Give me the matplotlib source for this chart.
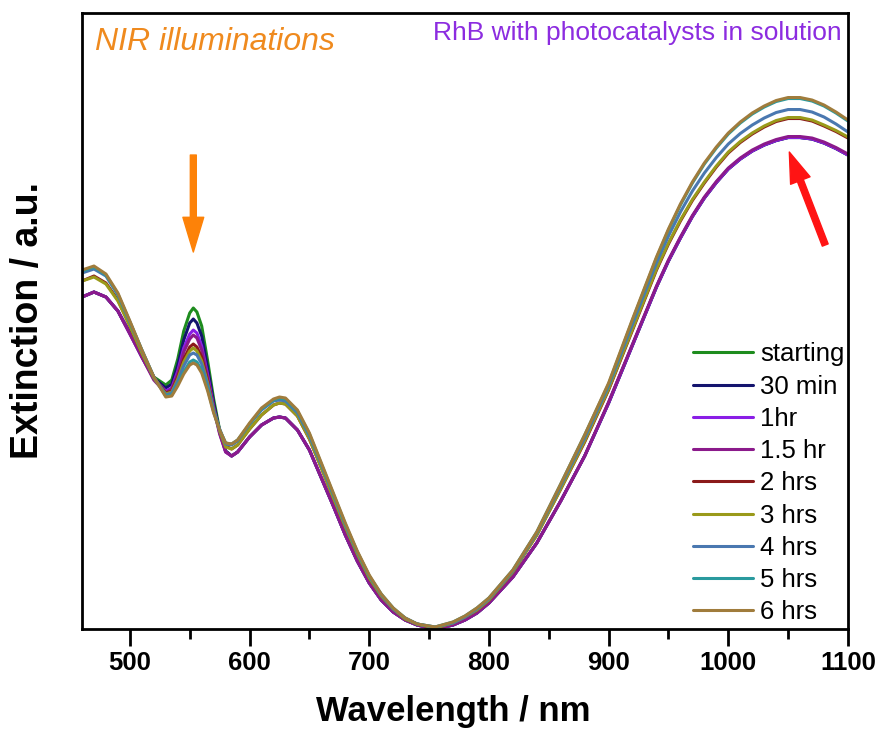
import matplotlib.pyplot as plt
from matplotlib.ticker import MultipleLocator

plt.rcParams['font.family'] = ['Liberation Sans', 'DejaVu Sans']

# wavelength grid (nm)
wavelength = [460, 470, 480, 490, 500, 510, 520, 530, 535, 540, 545, 550, 553, 556,
              560, 565, 570, 575, 580, 585, 590, 600, 610, 620, 625, 630, 640,
              650, 660, 670, 680, 690, 700, 710, 720, 730, 740, 755, 770, 780, 790,
              800, 820, 840, 860, 880, 900, 920, 940,
              950, 960, 970, 980, 990, 1000, 1010, 1020, 1030, 1040, 1050, 1060,
              1070, 1080, 1090, 1100]

# extinction (a.u.) for each illumination time
ext_start = [332, 337, 332, 318, 296, 273, 252, 244, 249, 270, 298, 316, 321, 317,
             303, 268, 230, 199, 178, 173, 177, 192, 204, 211, 212, 211, 199,
             179, 151, 123, 94, 68, 46, 29, 17, 9, 4, 0, 4, 9, 16,
             26, 52, 86, 128, 173, 226, 284, 342,
             368, 391, 412.5, 431, 446.5, 460, 470, 478, 484, 488.5, 491.5, 491.5,
             490, 486, 480.5, 474]
ext_30min = [332, 337, 332, 318, 296, 272, 251, 241, 245, 264, 289, 306, 310, 306,
             293, 261, 226, 197, 178, 173, 177, 192, 204, 211, 212, 211, 199,
             179, 151, 123, 94, 68, 46, 29, 17, 9, 4, 0, 4, 9, 16,
             26, 52, 86, 128, 173, 226, 284, 342,
             368, 391, 412.5, 431, 446.5, 460, 470, 478, 484, 488.5, 491.5, 491.5,
             490, 486, 480.5, 474]
ext_1h = [332, 337, 332, 318, 295, 272, 250, 238, 241, 258, 281, 295, 299, 296,
          283, 254, 222, 196, 177, 173, 177, 192, 204, 211, 212, 211, 199,
          179, 151, 123, 94, 68, 46, 29, 17, 9, 4, 0, 4, 9, 16,
          26, 52, 86, 128, 173, 226, 284, 342,
          368, 391, 412.5, 431, 446.5, 460, 470, 478, 484, 488.5, 491.5, 491.5,
          490, 486, 480.5, 474]
ext_1h5 = [332, 337, 332, 318, 295, 272, 249, 236, 240, 255, 277, 290, 294, 291,
           279, 251, 220, 195, 177, 173, 177, 192, 204, 211, 212, 211, 199,
           179, 151, 123, 94, 68, 46, 29, 17, 9, 4, 0, 4, 9, 16,
           26, 52, 86, 128, 173, 227, 285, 343,
           369, 392, 413.5, 432, 447.5, 461, 471, 479, 485, 489.5, 492.5, 492.5,
           491, 487, 481.5, 475]
ext_2h = [348, 353, 346, 329, 303, 276, 252, 236, 238, 252, 270, 282, 285, 282,
          272, 248, 220, 199, 183, 180, 184, 200, 214, 224, 226, 225, 213,
          190, 161, 131, 102, 75, 51, 33, 20, 10, 5, 1, 6, 12, 19,
          29, 57, 94, 140, 187, 239, 299, 359,
          385, 408, 428.5, 446, 462, 476, 486.5, 495, 502, 507.5, 510.5, 510.5,
          508, 503, 497.5, 491]
ext_3h = [348, 352, 345, 328, 303, 276, 251, 235, 237, 250, 267, 278, 281, 278,
          268, 246, 219, 198, 182, 180, 184, 200, 214, 224, 226, 225, 213,
          190, 161, 131, 102, 75, 51, 33, 20, 10, 5, 1, 6, 12, 19,
          29, 57, 94, 140, 188, 240, 300, 360,
          386, 409, 429.5, 447, 463, 477, 487.5, 496, 503, 508.5, 511.5, 511.5,
          509, 504, 498.5, 492]
ext_4h = [356, 360, 353, 334, 307, 279, 252, 234, 236, 248, 263, 274, 276, 274,
          265, 244, 219, 200, 185, 184, 188, 205, 219, 228, 229, 228, 216,
          193, 164, 134, 104, 77, 53, 34, 20, 11, 5, 2, 6, 12, 20,
          30, 58, 96, 143, 191, 243, 305, 366,
          393, 417, 438, 456, 471.5, 485, 495.5, 504, 511, 516.5, 519.5, 519.5,
          517, 512, 505, 497]
ext_5h = [358, 362, 354, 335, 307, 279, 252, 233, 234, 245, 257, 267, 269, 267,
          259, 240, 217, 199, 186, 185, 189, 205, 220, 229, 231, 230, 218,
          195, 165, 135, 105, 77, 53, 35, 21, 11, 5, 2, 7, 13, 21,
          31, 59, 97, 145, 194, 245, 309, 371,
          399, 424, 446, 465, 481, 495, 506, 515, 522, 527.5, 530.5, 530.5,
          528, 523, 516, 508]
ext_6h = [359, 363, 355, 336, 308, 279, 252, 232, 233, 243, 255, 264, 266, 264,
          256, 238, 216, 199, 186, 185, 189, 206, 221, 230, 232, 231, 219,
          196, 166, 136, 106, 78, 54, 35, 21, 11, 5, 2, 7, 13, 21,
          31, 59, 97, 145, 194, 246, 310, 372,
          400, 425, 447, 466, 482, 496, 507, 516, 523, 528.5, 531.5, 531.5,
          529, 524, 517, 509]

labels = ['starting', '30 min', '1hr', '1.5 hr', '2 hrs', '3 hrs', '4 hrs', '5 hrs', '6 hrs']
series = [ext_start, ext_30min, ext_1h, ext_1h5, ext_2h, ext_3h, ext_4h, ext_5h, ext_6h]
colors = ['#1e8c1e', '#14146e', '#8a1ee6', '#8b1a8b', '#8b1a1a',
          '#9a9a1a', '#4a78b0', '#2a9a9e', '#a07c3c']

fig = plt.figure(figsize=(8.79, 7.32), dpi=100)
ax = fig.add_axes([0.0933, 0.1407, 0.8714, 0.8415])

for lab, vals, c in zip(labels, series, colors):
    ax.plot(wavelength, vals, color=c, lw=2.2, label=lab,
            solid_joinstyle='round', solid_capstyle='round')

ax.set_xlim(460, 1100)
ax.set_ylim(0, 616)
ax.set_yticks([])
ax.xaxis.set_major_locator(MultipleLocator(100))
ax.xaxis.set_minor_locator(MultipleLocator(50))
ax.tick_params(axis='x', which='major', direction='out', length=12, width=2,
               labelsize=18.5, pad=4)
ax.tick_params(axis='x', which='minor', direction='out', length=7, width=2)
for t in ax.get_xticklabels():
    t.set_fontweight('bold')
for s in ax.spines.values():
    s.set_linewidth(2)

fig.text(453 / 879, 1 - 712 / 732, 'Wavelength / nm', fontsize=25,
         fontweight='bold', ha='center', va='center')
fig.text(28 / 879, 1 - 320 / 732, 'Extinction / a.u.', fontsize=27,
         fontweight='bold', rotation=90, ha='center', va='center')

ax.text(0.017, 0.94, 'NIR illuminations', transform=ax.transAxes, fontsize=23,
        style='italic', color='#ef8a1e', ha='left', va='baseline')
ax.text(0.992, 0.956, 'RhB with photocatalysts in solution', transform=ax.transAxes,
        fontsize=19, color='#8c2ce0', ha='right', va='baseline')

# arrows: dye band fading, plasmon band rising
ax.annotate('', xy=(553, 377), xytext=(553, 474),
            arrowprops=dict(arrowstyle='simple,head_width=1.5,head_length=2.5,tail_width=0.43',
                            color='#fd8208', shrinkA=0, shrinkB=0, mutation_scale=10))
ax.annotate('', xy=(1051, 477), xytext=(1081, 384),
            arrowprops=dict(arrowstyle='simple,head_width=1.5,head_length=2.2,tail_width=0.45',
                            color='#ff1414', shrinkA=0, shrinkB=0, mutation_scale=10))

ax.legend(loc='upper left', bbox_to_anchor=(0.798, 0.4653), frameon=False,
          fontsize=18.5, handlelength=2.33, handletextpad=0.28, labelspacing=0.32,
          borderpad=0, borderaxespad=0)

fig.savefig('out.png', dpi=100)
